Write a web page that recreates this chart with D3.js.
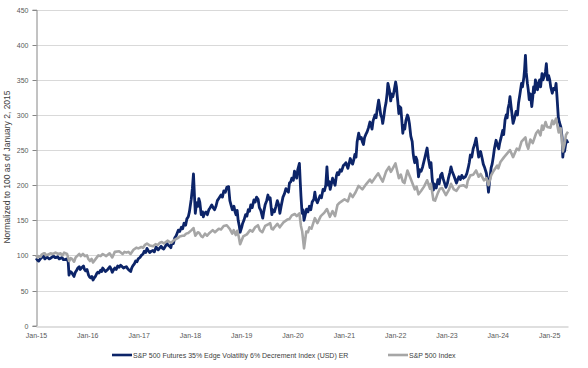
<!DOCTYPE html>
<html>
<head>
<meta charset="utf-8">
<script src="https://cdn.jsdelivr.net/npm/d3@7"></script>
<style>
  html, body { margin: 0; padding: 0; background: #ffffff; }
  svg { display: block; font-family: "Liberation Sans", Arial, sans-serif; }
</style>
</head>
<body>
<svg id="chart" width="588" height="368"></svg>
<script>
// ---------- data ----------
const seriesNames = [
  "S&P 500 Futures 35% Edge Volatiltiy 6% Decrement Index (USD) ER",
  "S&P 500 Index"
];
const yTicks = [0, 50, 100, 150, 200, 250, 300, 350, 400, 450];
const xTickLabels = ["Jan-15","Jan-16","Jan-17","Jan-18","Jan-19","Jan-20","Jan-21","Jan-22","Jan-23","Jan-24","Jan-25"];
const yAxisTitle = "Normalized to 100 as of January 2, 2015";

const edgeDates = [
"2015-01-02","2015-01-12","2015-01-20","2015-02-01","2015-02-10","2015-02-25","2015-03-05","2015-03-15","2015-03-25","2015-04-05","2015-04-15","2015-04-28","2015-05-05","2015-05-15","2015-05-25","2015-06-05","2015-06-15","2015-06-25","2015-07-05","2015-07-15","2015-07-25","2015-08-10","2015-08-18","2015-08-24","2015-09-01","2015-09-10","2015-09-20","2015-09-28","2015-10-08","2015-10-15","2015-10-26","2015-11-05","2015-11-12","2015-11-20","2015-12-05","2015-12-12","2015-12-20","2015-12-30",
"2016-01-10","2016-01-18","2016-01-25","2016-02-03","2016-02-11","2016-02-20","2016-02-28","2016-03-08","2016-03-15","2016-03-25","2016-04-05","2016-04-12","2016-04-20","2016-05-01","2016-05-10","2016-05-25","2016-06-03","2016-06-10","2016-06-20","2016-06-27","2016-07-05","2016-07-15","2016-07-25","2016-08-05","2016-08-15","2016-08-25","2016-09-05","2016-09-15","2016-09-25","2016-10-05","2016-10-15","2016-10-25","2016-11-05","2016-11-12","2016-11-20","2016-12-01","2016-12-10","2016-12-20","2016-12-28",
"2017-01-10","2017-01-20","2017-02-01","2017-02-10","2017-02-20","2017-03-01","2017-03-10","2017-03-20","2017-04-01","2017-04-12","2017-04-22","2017-05-05","2017-05-12","2017-05-20","2017-06-01","2017-06-10","2017-06-20","2017-06-28","2017-07-10","2017-07-20","2017-07-28","2017-08-10","2017-08-18","2017-08-25","2017-09-05","2017-09-15","2017-09-25","2017-10-10","2017-10-20","2017-11-01","2017-11-10","2017-11-20","2017-12-01","2017-12-10","2017-12-20","2017-12-28",
"2018-01-10","2018-01-18","2018-01-26","2018-02-02","2018-02-08","2018-02-14","2018-02-20","2018-02-28","2018-03-05","2018-03-12","2018-03-22","2018-04-01","2018-04-06","2018-04-15","2018-04-25","2018-05-05","2018-05-15","2018-05-25","2018-06-05","2018-06-15","2018-06-25","2018-07-05","2018-07-15","2018-07-25","2018-08-10","2018-08-20","2018-08-30","2018-09-10","2018-09-20","2018-10-03","2018-10-12","2018-10-20","2018-10-30","2018-11-10","2018-11-18","2018-11-25","2018-12-03","2018-12-10","2018-12-18","2018-12-24",
"2019-01-04","2019-01-10","2019-01-20","2019-02-01","2019-02-10","2019-02-20","2019-03-01","2019-03-10","2019-03-20","2019-04-01","2019-04-10","2019-04-20","2019-05-01","2019-05-10","2019-05-20","2019-06-03","2019-06-10","2019-06-20","2019-07-01","2019-07-10","2019-07-18","2019-07-26","2019-08-07","2019-08-14","2019-08-25","2019-09-05","2019-09-15","2019-09-25","2019-10-03","2019-10-12","2019-10-25","2019-11-05","2019-11-15","2019-11-25","2019-12-03","2019-12-10","2019-12-20","2019-12-27",
"2020-01-07","2020-01-15","2020-01-24","2020-01-31","2020-02-07","2020-02-19","2020-02-25","2020-03-01","2020-03-09","2020-03-16","2020-03-23","2020-04-01","2020-04-10","2020-04-20","2020-04-30","2020-05-10","2020-05-20","2020-06-01","2020-06-08","2020-06-15","2020-06-26","2020-07-05","2020-07-15","2020-07-25","2020-08-05","2020-08-15","2020-08-25","2020-09-02","2020-09-10","2020-09-18","2020-09-25","2020-10-05","2020-10-12","2020-10-20","2020-10-30","2020-11-09","2020-11-15","2020-11-25","2020-12-05","2020-12-15","2020-12-28",
"2021-01-08","2021-01-15","2021-01-22","2021-01-29","2021-02-08","2021-02-15","2021-02-25","2021-03-04","2021-03-12","2021-03-20","2021-03-28","2021-04-05","2021-04-16","2021-04-26","2021-05-05","2021-05-12","2021-05-20","2021-05-28","2021-06-05","2021-06-15","2021-06-25","2021-07-05","2021-07-12","2021-07-20","2021-07-28","2021-08-10","2021-08-18","2021-08-25","2021-09-05","2021-09-12","2021-09-20","2021-09-28","2021-10-04","2021-10-12","2021-10-20","2021-10-28","2021-11-05","2021-11-10","2021-11-20","2021-11-30","2021-12-08","2021-12-15","2021-12-22",
"2022-01-04","2022-01-10","2022-01-14","2022-01-20","2022-01-27","2022-02-02","2022-02-10","2022-02-16","2022-02-24","2022-03-03","2022-03-10","2022-03-18","2022-03-29","2022-04-05","2022-04-12","2022-04-22","2022-05-02","2022-05-09","2022-05-14","2022-05-20","2022-05-28","2022-06-05","2022-06-16","2022-06-25","2022-07-05","2022-07-15","2022-08-01","2022-08-10","2022-08-16","2022-08-25","2022-09-06","2022-09-13","2022-09-20","2022-09-30","2022-10-05","2022-10-12","2022-10-20","2022-11-01","2022-11-10","2022-11-20","2022-11-30","2022-12-07","2022-12-15","2022-12-28",
"2023-01-08","2023-01-15","2023-01-25","2023-02-02","2023-02-10","2023-02-20","2023-03-01","2023-03-13","2023-03-22","2023-03-30","2023-04-10","2023-04-20","2023-05-01","2023-05-15","2023-05-25","2023-06-05","2023-06-12","2023-06-20","2023-06-30","2023-07-10","2023-07-20","2023-07-31","2023-08-08","2023-08-18","2023-08-25","2023-09-01","2023-09-12","2023-09-20","2023-09-28","2023-10-12","2023-10-20","2023-10-27","2023-11-05","2023-11-15","2023-11-22","2023-11-30","2023-12-08","2023-12-20","2023-12-28",
"2024-01-08","2024-01-15","2024-01-25","2024-02-05","2024-02-12","2024-02-22","2024-03-01","2024-03-08","2024-03-15","2024-03-22","2024-03-28","2024-04-05","2024-04-12","2024-04-19","2024-04-30","2024-05-10","2024-05-20","2024-05-28","2024-06-07","2024-06-18","2024-06-25","2024-07-05","2024-07-10","2024-07-16","2024-07-22","2024-07-30","2024-08-05","2024-08-12","2024-08-20","2024-08-30","2024-09-06","2024-09-12","2024-09-18","2024-09-25","2024-10-03","2024-10-10","2024-10-18","2024-10-25","2024-11-01","2024-11-11","2024-11-18","2024-11-25","2024-12-02","2024-12-06","2024-12-12","2024-12-20","2024-12-28",
"2025-01-05","2025-01-12","2025-01-23","2025-02-01","2025-02-12","2025-02-19","2025-02-26","2025-03-07","2025-03-14","2025-03-25","2025-04-03","2025-04-08","2025-04-14","2025-04-20","2025-04-28","2025-05-05","2025-05-15"];
const edgeValues = [
96,93,92,95,97,99,95,97,97,95,96,98,99,97,97,98,95,96,97,94,94,95,91,72,77,76,73,70,76,78,82,84,80,82,85,80,78,80,
72,69,68,70,65,68,70,74,76,75,79,77,82,79,77,80,82,84,80,76,79,82,80,85,83,86,84,82,83,84,81,79,77,82,85,88,92,91,95,
97,100,102,106,104,110,107,104,106,107,105,112,110,108,111,113,110,109,113,117,115,113,111,118,117,125,128,136,134,140,138,146,143,152,155,162,
180,195,216,185,160,170,175,170,181,176,158,162,155,160,162,158,165,168,172,168,165,170,178,181,186,183,192,190,197,198,178,172,165,170,162,158,164,150,142,133,
140,145,150,158,156,165,163,172,168,179,176,183,180,168,164,153,162,172,178,186,180,182,158,165,162,170,178,172,160,170,183,188,195,192,190,203,205,210,
207,220,214,210,222,231,205,185,160,165,150,158,166,162,170,165,176,180,190,180,175,180,185,182,194,192,200,226,200,205,194,203,210,206,200,214,218,215,222,220,228,
230,232,228,224,232,238,232,230,236,244,240,262,274,266,268,262,258,268,272,276,282,290,286,280,292,300,296,307,321,312,300,296,288,298,310,318,332,345,336,320,330,326,332,
347,340,330,318,302,312,310,295,274,285,280,292,300,296,288,270,262,245,238,232,240,236,212,222,220,226,240,248,253,238,225,232,212,193,202,198,196,208,202,214,217,210,205,197,
203,210,218,226,220,215,210,203,208,212,208,214,210,212,216,225,232,243,240,252,258,267,255,240,244,248,238,230,226,217,205,190,208,225,230,240,252,264,258,
252,260,268,278,272,293,300,296,310,316,326,312,300,288,296,305,300,317,330,345,340,354,365,385,360,345,336,322,330,312,325,340,332,350,344,336,345,350,340,359,350,354,358,362,373,350,356,
350,340,331,338,336,345,325,297,290,283,268,240,252,248,258,264,260];

const spxDates = [
"2015-01-02","2015-01-12","2015-01-20","2015-02-02","2015-02-10","2015-02-25","2015-03-05","2015-03-12","2015-03-25","2015-04-05","2015-04-15","2015-05-01","2015-05-20","2015-06-10","2015-06-25","2015-07-08","2015-07-20","2015-08-10","2015-08-25","2015-09-05","2015-09-15","2015-09-29","2015-10-10","2015-10-20","2015-11-05","2015-11-15","2015-12-01","2015-12-15","2015-12-30",
"2016-01-08","2016-01-20","2016-02-01","2016-02-11","2016-03-01","2016-03-20","2016-04-05","2016-04-20","2016-05-15","2016-06-08","2016-06-27","2016-07-15","2016-08-15","2016-09-09","2016-09-22","2016-10-05","2016-10-20","2016-11-04","2016-11-25","2016-12-15","2016-12-30",
"2017-01-20","2017-02-01","2017-02-15","2017-03-01","2017-03-22","2017-04-13","2017-05-01","2017-05-17","2017-06-01","2017-06-15","2017-06-29","2017-07-25","2017-08-10","2017-08-21","2017-09-05","2017-09-20","2017-10-10","2017-10-20","2017-11-08","2017-11-20","2017-12-05","2017-12-20",
"2018-01-12","2018-01-26","2018-02-08","2018-02-26","2018-03-08","2018-03-23","2018-04-02","2018-04-18","2018-05-03","2018-05-20","2018-06-12","2018-06-28","2018-07-25","2018-08-10","2018-08-29","2018-09-20","2018-10-10","2018-10-29","2018-11-08","2018-11-23","2018-12-03","2018-12-14","2018-12-24",
"2019-01-05","2019-01-15","2019-02-10","2019-03-05","2019-03-22","2019-04-10","2019-04-30","2019-05-13","2019-05-31","2019-06-20","2019-07-10","2019-07-26","2019-08-05","2019-08-15","2019-08-25","2019-09-15","2019-10-02","2019-10-28","2019-11-25","2019-12-10","2019-12-27",
"2020-01-17","2020-01-31","2020-02-19","2020-03-01","2020-03-10","2020-03-23","2020-04-08","2020-04-20","2020-04-30","2020-05-15","2020-06-08","2020-06-26","2020-07-20","2020-08-15","2020-09-02","2020-09-23","2020-10-12","2020-10-30","2020-11-16","2020-12-01","2020-12-15",
"2021-01-05","2021-01-29","2021-02-15","2021-03-04","2021-03-25","2021-04-15","2021-05-12","2021-06-10","2021-07-05","2021-07-19","2021-08-15","2021-09-02","2021-09-20","2021-10-04","2021-10-29","2021-11-18","2021-12-01","2021-12-15",
"2022-01-03","2022-01-27","2022-02-10","2022-02-24","2022-03-08","2022-03-29","2022-04-20","2022-05-05","2022-05-20","2022-06-02","2022-06-16","2022-07-05","2022-07-25","2022-08-16","2022-09-06","2022-09-12","2022-09-30","2022-10-12","2022-11-01","2022-11-15","2022-12-01","2022-12-28",
"2023-01-20","2023-02-02","2023-02-22","2023-03-13","2023-04-05","2023-05-01","2023-05-24","2023-06-01","2023-06-20","2023-07-10","2023-07-31","2023-08-18","2023-09-01","2023-09-25","2023-10-12","2023-10-27","2023-11-15","2023-12-01","2023-12-28",
"2024-01-05","2024-01-20","2024-02-15","2024-03-07","2024-03-28","2024-04-19","2024-05-15","2024-05-31","2024-06-18","2024-07-16","2024-07-25","2024-08-05","2024-08-20","2024-09-06","2024-09-30","2024-10-15","2024-10-31","2024-11-11","2024-11-20","2024-12-06","2024-12-18",
"2025-01-10","2025-01-23","2025-02-03","2025-02-19","2025-03-10","2025-03-25","2025-04-03","2025-04-08","2025-04-20","2025-05-01","2025-05-15"];
const spxValues = [
100,97,99,98,101,103,103,100,101,102,103,102,104,102,103,100,104,102,92,96,95,91,97,99,102,99,102,99,100,
95,92,95,90,95,100,99,102,99,103,97,105,106,102,105,104,105,102,108,111,110,
112,111,115,117,114,113,116,115,118,119,117,121,119,118,121,123,125,127,128,128,131,132,
136,139,128,133,132,127,126,131,128,132,136,133,138,137,142,143,138,131,136,129,135,127,116,
122,127,130,136,134,140,143,136,133,142,144,146,138,137,140,145,140,147,151,152,157,
159,156,160,142,134,110,134,133,140,138,153,146,156,161,166,155,163,156,172,175,177,
180,177,188,183,190,199,194,202,208,204,212,217,210,205,220,226,219,224,
231,210,215,205,203,221,210,202,194,198,187,192,198,207,195,202,179,178,189,195,196,186,
194,202,194,192,199,200,197,206,214,215,221,212,216,207,210,200,214,220,228,
224,233,240,245,250,240,252,250,262,268,258,252,265,260,274,278,271,285,279,290,283,
282,292,287,295,275,281,262,248,258,272,276];

// ---------- chart ----------
const svg = d3.select("#chart");
const parse = d3.timeParse("%Y-%m-%d");
const x = d3.scaleTime()
  .domain([parse("2015-01-01"), parse("2025-05-15")])
  .range([36, 568]);
const y = d3.scaleLinear().domain([0, 450]).range([325.6, 9.7]);
const py = v => Math.round(y(v)) + 0.5;

// gridlines
svg.append("g").selectAll("line")
  .data(yTicks.filter(d => d > 0))
  .join("line")
  .attr("x1", 36).attr("x2", 568)
  .attr("y1", d => py(d)).attr("y2", d => py(d))
  .attr("stroke", "#d9d9d9").attr("stroke-width", 1);

// y axis
const yAxis = svg.append("g")
  .attr("transform", "translate(36.5,0)")
  .call(d3.axisLeft(y).tickValues(yTicks).tickSize(4).tickPadding(4).tickFormat(d3.format("d")));
yAxis.select(".domain").attr("stroke", "#868686");
yAxis.selectAll(".tick line").attr("stroke", "#868686");
yAxis.selectAll(".tick text").attr("fill", "#595959").style("font-size", "7px");
yAxis.selectAll(".tick").attr("transform", d => `translate(0,${py(d)})`);

// x axis
const xTickDates = xTickLabels.map((s, i) => new Date(2015 + i, 0, 1));
const xAxis = svg.append("g")
  .attr("transform", `translate(0,${py(0)})`)
  .call(d3.axisBottom(x).tickValues(xTickDates).tickSize(0).tickPadding(7)
    .tickFormat((d, i) => xTickLabels[i]));
xAxis.select(".domain").attr("stroke", "#bfbfbf");
xAxis.selectAll(".tick text").attr("fill", "#595959").style("font-size", "7px");

// y axis title
svg.append("text")
  .attr("transform", "translate(10,167) rotate(-90)")
  .attr("text-anchor", "middle")
  .attr("fill", "#404040")
  .style("font-size", "8.5px")
  .text(yAxisTitle);

// lines
const edge = edgeDates.map((d, i) => ({date: parse(d), value: edgeValues[i]}));
const spx = spxDates.map((d, i) => ({date: parse(d), value: spxValues[i]}));
const line = d3.line().x(d => x(d.date)).y(d => y(d.value));

svg.append("path").datum(edge)
  .attr("fill", "none").attr("stroke", "#0c2468").attr("stroke-width", 2.8)
  .attr("stroke-linejoin", "round").attr("d", line);
svg.append("path").datum(spx)
  .attr("fill", "none").attr("stroke", "#a6a6a6").attr("stroke-width", 2.6)
  .attr("stroke-linejoin", "round").attr("d", line);

// legend
const legend = [
  {name: seriesNames[0], color: "#0c2468", x0: 112},
  {name: seriesNames[1], color: "#a6a6a6", x0: 388}
];
const lg = svg.append("g");
legend.forEach(l => {
  lg.append("line").attr("x1", l.x0).attr("x2", l.x0 + 20)
    .attr("y1", 355).attr("y2", 355)
    .attr("stroke", l.color).attr("stroke-width", 2.6);
  lg.append("text").attr("x", l.x0 + 21).attr("y", 357.5)
    .attr("fill", "#404040").style("font-size", "7px").text(l.name);
});
</script>
</body>
</html>
